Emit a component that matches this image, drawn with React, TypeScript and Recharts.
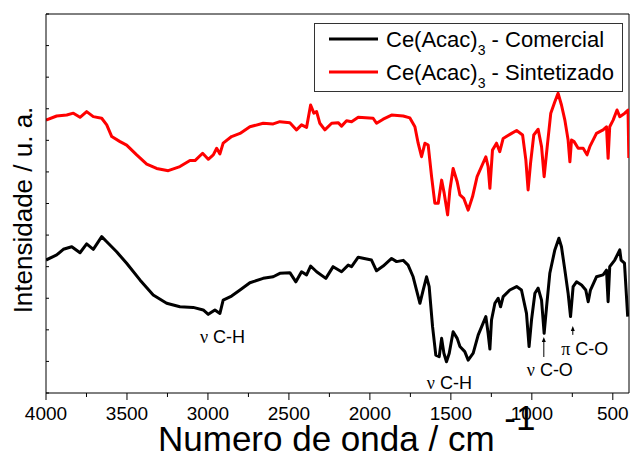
import React from 'react';
import { LineChart, Line, XAxis, YAxis, ReferenceLine, ReferenceDot, Legend } from 'recharts';

// FTIR spectra of Ce(acac)3 (wavenumber in cm-1, intensity in arbitrary units)
const comercialWavenumber = [
  4000, 3934, 3893, 3841, 3790, 3749, 3708, 3656, 3625, 3564,
  3502, 3420, 3338, 3255, 3173, 3091, 3029, 2998, 2957, 2926,
  2906, 2854, 2802, 2741, 2659, 2597, 2556, 2494, 2457, 2422,
  2391, 2366, 2329, 2272, 2227, 2175, 2134, 2113, 2072, 1990,
  1959, 1918, 1866, 1835, 1794, 1764, 1733, 1712, 1691, 1671,
  1650, 1634, 1613, 1593, 1572, 1557, 1543, 1527, 1510, 1486,
  1461, 1444, 1414, 1393, 1362, 1331, 1284, 1270, 1259, 1249,
  1228, 1208, 1193, 1177, 1136, 1094, 1064, 1033, 1017, 1002,
  981, 961, 940, 924, 909, 889, 858, 833, 817, 796,
  776, 761, 745, 724, 693, 667, 652, 638, 601, 560,
  539, 529, 519, 488, 457, 449, 428, 408,
];
const comercialIntensity = [
  4.21, 4.37, 4.55, 4.63, 4.44, 4.72, 4.55, 4.95, 4.79, 4.47,
  4.11, 3.58, 3.10, 2.84, 2.73, 2.71, 2.63, 2.49, 2.63, 2.52,
  2.94, 3.07, 3.26, 3.49, 3.63, 3.68, 3.79, 3.81, 3.52, 3.84,
  3.74, 4.02, 3.84, 3.63, 4.00, 3.84, 4.05, 4.00, 4.30, 4.21,
  3.87, 4.02, 4.26, 4.16, 4.20, 4.05, 3.68, 3.26, 2.84, 3.26,
  3.68, 3.37, 2.10, 1.20, 1.15, 1.73, 1.26, 0.99, 1.26, 1.94,
  1.73, 1.47, 1.31, 1.04, 1.26, 1.84, 2.42, 1.89, 1.39, 2.31,
  2.84, 3.00, 2.73, 3.05, 3.26, 3.37, 3.26, 2.52, 1.47, 2.31,
  3.16, 3.32, 2.94, 1.89, 2.73, 3.79, 4.53, 4.90, 4.63, 3.89,
  3.16, 2.42, 3.37, 3.52, 3.42, 3.26, 2.89, 3.26, 3.68, 3.74,
  3.89, 2.89, 4.00, 4.21, 4.53, 4.21, 4.11, 2.42,
];

const sintetizadoWavenumber = [
  4000, 3934, 3872, 3831, 3790, 3749, 3708, 3656, 3625, 3594,
  3543, 3502, 3440, 3378, 3317, 3245, 3173, 3111, 3080, 3033,
  2998, 2967, 2946, 2926, 2906, 2854, 2802, 2741, 2659, 2597,
  2556, 2494, 2453, 2422, 2391, 2366, 2346, 2329, 2309, 2278,
  2236, 2196, 2175, 2144, 2113, 2072, 1980, 1959, 1918, 1866,
  1794, 1753, 1722, 1702, 1681, 1660, 1640, 1619, 1599, 1578,
  1557, 1541, 1520, 1506, 1486, 1461, 1444, 1420, 1393, 1366,
  1338, 1284, 1270, 1259, 1243, 1218, 1198, 1177, 1125, 1094,
  1057, 1037, 1023, 1008, 988, 961, 940, 924, 905, 883,
  858, 838, 817, 796, 776, 765, 755, 739, 714, 683,
  659, 642, 601, 560, 539, 529, 519, 498, 474, 457,
  426, 406, 401,
];
const sintetizadoIntensity = [
  8.64, 8.77, 8.80, 8.86, 8.73, 8.91, 8.75, 8.70, 8.49, 8.12,
  7.96, 7.85, 7.54, 7.25, 7.11, 7.04, 7.17, 7.36, 7.36, 7.59,
  7.40, 7.54, 7.75, 7.57, 7.91, 8.12, 8.22, 8.43, 8.54, 8.52,
  8.59, 8.56, 8.33, 8.49, 8.41, 9.12, 8.86, 8.91, 8.54, 8.33,
  8.54, 8.56, 8.45, 8.62, 8.59, 8.73, 8.70, 8.54, 8.67, 8.80,
  8.77, 8.71, 8.43, 7.91, 7.48, 7.91, 7.85, 6.85, 6.01, 6.01,
  6.74, 6.32, 5.64, 6.43, 7.11, 6.69, 6.27, 6.16, 5.79, 6.22,
  6.85, 7.48, 7.17, 6.48, 7.69, 7.91, 7.64, 8.06, 8.22, 8.31,
  8.17, 7.38, 6.43, 7.27, 8.17, 8.35, 7.80, 6.85, 7.80, 8.86,
  9.22, 9.49, 9.12, 8.64, 8.01, 7.32, 8.01, 7.96, 7.75, 7.75,
  7.54, 7.80, 8.22, 8.33, 8.43, 7.43, 8.43, 8.64, 8.96, 8.75,
  8.86, 8.96, 7.44,
];

const xTicks = [4000, 3750, 3500, 3250, 3000, 2750, 2500, 2250, 2000, 1750, 1500, 1250, 1000, 750, 500];
const yTicks = [0, 1, 2, 3, 4, 5, 6, 7, 8, 9, 10, 11, 12];

// Band assignments written under the spectra
const bandSymbols = ['ν', 'ν', 'ν', 'π'];
const bandGroups = ['C-H', 'C-H', 'C-O', 'C-O'];
const bandLabelX = [2910, 1509, 889, 673];
const bandLabelY = [1.58, 0.13, 0.54, 1.2];

// Arrows pointing at the C-O bands
const arrowX = [926, 747];
const arrowFrom = [1.14, 1.84];
const arrowTo = [1.77, 2.12];

const FONT = "'Liberation Sans', Arial, Helvetica, sans-serif";
const SERIF = "'Liberation Serif', 'Times New Roman', serif";

const comercialData = comercialWavenumber.map((x, i) => ({ x, y: comercialIntensity[i] }));
const sintetizadoData = sintetizadoWavenumber.map((x, i) => ({ x, y: sintetizadoIntensity[i] }));

const XTick = (props: any) => {
  const { x, y, payload } = props;
  const major = payload.value % 500 === 0;
  return (
    <g>
      <line x1={x} y1={y} x2={x} y2={y + (major ? 7 : 4)} stroke="#000" strokeWidth={1} />
      {major && (
        <text x={x} y={y + 27} textAnchor="middle" fontFamily={FONT} fontSize={19} fill="#000">
          {payload.value}
        </text>
      )}
    </g>
  );
};

const YTick = (props: any) => {
  const { x, y } = props;
  return <line x1={x} y1={y} x2={x + 3} y2={y} stroke="#000" strokeWidth={1} />;
};

const XTitle = () => (
  <text x={158} y={451} fontFamily={FONT} fontSize={35} fill="#000">
    <tspan>Numero de onda / cm </tspan>
    <tspan dy={-21}>-1</tspan>
  </text>
);

const YTitle = () => (
  <text
    x={32}
    y={210}
    transform="rotate(-90 32 210)"
    textAnchor="middle"
    fontFamily={FONT}
    fontSize={26}
    fill="#000"
  >
    Intensidade / u. a.
  </text>
);

const LegendBox = () => {
  const rows = [
    { color: '#000000', name: 'Comercial' },
    { color: '#ff0000', name: 'Sintetizado' },
  ];
  return (
    <svg width={309} height={69} style={{ display: 'block' }}>
      <rect x={0.5} y={0.5} width={308} height={68} fill="#fff" stroke="#333" strokeWidth={1} />
      {rows.map((r, i) => (
        <g key={r.name}>
          <line x1={15} x2={64} y1={16 + i * 33} y2={16 + i * 33} stroke={r.color} strokeWidth={3} />
          <text x={72} y={24 + i * 33} fontFamily={FONT} fontSize={22} fill="#000">
            <tspan>Ce(Acac)</tspan>
            <tspan dy={8} fontSize={14}>3</tspan>
            <tspan dy={-8}>{' - ' + r.name}</tspan>
          </text>
        </g>
      ))}
    </svg>
  );
};

const BandLabel = (props: any) => {
  const { cx, cy, idx } = props;
  return (
    <text x={cx} y={cy} textAnchor="middle" fontFamily={FONT} fontSize={18} fill="#000">
      <tspan fontFamily={SERIF}>{bandSymbols[idx]}</tspan>
      <tspan>{' ' + bandGroups[idx]}</tspan>
    </text>
  );
};

const Arrow = (props: any) => {
  const { x1, y1, x2, y2 } = props;
  // y2 is the tip (upper end)
  const tipY = Math.min(y1, y2);
  const tailY = Math.max(y1, y2);
  return (
    <g>
      <line x1={x1} y1={tailY} x2={x2} y2={tipY + 4} stroke="#000" strokeWidth={1} />
      <polygon points={`${x1},${tipY} ${x1 - 2},${tipY + 5} ${x1 + 2},${tipY + 5}`} fill="#000" />
    </g>
  );
};

export default function App() {
  return (
    <div style={{ position: 'absolute', left: 0, top: 0, background: '#fff' }}>
      <LineChart width={632} height={455} margin={{ top: 14, right: 3, bottom: 0, left: 0 }}>
        <XAxis
          dataKey="x"
          type="number"
          domain={[400, 4000]}
          reversed
          ticks={xTicks}
          interval={0}
          tickSize={0}
          tickMargin={0}
          tickLine={false}
          tick={<XTick />}
          height={62}
          axisLine={{ stroke: '#000', strokeWidth: 1 }}
          allowDataOverflow
        />
        <YAxis
          type="number"
          domain={[0, 12]}
          ticks={yTicks}
          interval={0}
          tickSize={0}
          tickMargin={0}
          tickLine={false}
          tick={<YTick />}
          width={46}
          axisLine={{ stroke: '#000', strokeWidth: 1 }}
          allowDataOverflow
        />
        <ReferenceLine y={12} stroke="#000" strokeWidth={1} ifOverflow="extendDomain" />
        <ReferenceLine x={400} stroke="#000" strokeWidth={1} ifOverflow="extendDomain" />
        <Line
          data={sintetizadoData}
          dataKey="y"
          name="Ce(Acac)3 - Sintetizado"
          type="linear"
          stroke="#ff0000"
          strokeWidth={3}
          strokeLinejoin="round"
          dot={false}
          isAnimationActive={false}
        />
        <Line
          data={comercialData}
          dataKey="y"
          name="Ce(Acac)3 - Comercial"
          type="linear"
          stroke="#000000"
          strokeWidth={3}
          strokeLinejoin="round"
          dot={false}
          isAnimationActive={false}
        />
        {bandLabelX.map((bx, i) => (
          <ReferenceDot
            key={'band' + i}
            x={bx}
            y={bandLabelY[i]}
            r={0}
            shape={(p: any) => <BandLabel {...p} idx={i} />}
          />
        ))}
        {arrowX.map((ax, i) => (
          <ReferenceLine
            key={'arrow' + i}
            segment={[
              { x: ax, y: arrowFrom[i] },
              { x: ax, y: arrowTo[i] },
            ]}
            shape={(p: any) => <Arrow {...p} />}
          />
        ))}
        <Legend
          layout="vertical"
          align="center"
          verticalAlign="middle"
          wrapperStyle={{ left: 314, top: 23, width: 309, height: 69 }}
          content={() => <LegendBox />}
        />
      </LineChart>
      <svg width={632} height={455} style={{ position: 'absolute', left: 0, top: 0, pointerEvents: 'none' }}>
        <XTitle />
        <YTitle />
      </svg>
    </div>
  );
}
